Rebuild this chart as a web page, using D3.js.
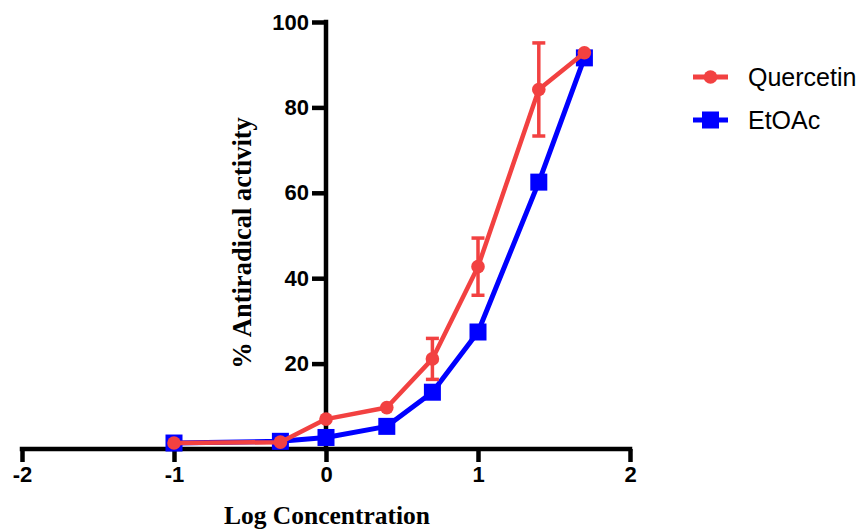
<!DOCTYPE html>
<html>
<head>
<meta charset="utf-8">
<script src="https://cdn.jsdelivr.net/npm/d3@7"></script>
<style>
  body { margin: 0; background: #fff; }
  svg { display: block; }
</style>
</head>
<body>
<svg id="chart" width="863" height="529"></svg>
<script>
// ---- data ----
var logConc = [-1, -0.3, 0, 0.4, 0.7, 1, 1.4, 1.7];
var quercetin = [1.4, 1.6, 7.0, 9.7, 21.1, 42.7, 84.2, 92.8];
var quercetinErr = [0, 0, 0, 0, 4.8, 6.7, 10.9, 0];
var etoac = [1.4, 1.8, 2.7, 5.3, 13.3, 27.4, 62.5, 91.6];
var xTicks = [-2, -1, 0, 1, 2];
var yTicks = [20, 40, 60, 80, 100];

var RED = "#f24141", BLUE = "#0000ff";

var svg = d3.select("#chart");
var x = d3.scaleLinear().domain([-2, 2]).range([22, 630]);
var y = d3.scaleLinear().domain([0, 100]).range([449, 22]);

// ---- axes ----
var xAxis = svg.append("g").attr("transform", "translate(0," + y(0) + ")")
  .call(d3.axisBottom(x).tickValues(xTicks).tickSize(13).tickPadding(4).tickFormat(function(d){ return String(d); }));
var yAxis = svg.append("g").attr("transform", "translate(" + x(0) + ",0)")
  .call(d3.axisLeft(y).tickValues(yTicks).tickSize(14).tickPadding(3).tickFormat(function(d){ return String(d); }));

[xAxis, yAxis].forEach(function(a){
  a.select(".domain").attr("stroke", "#000").attr("stroke-width", 4.5);
  a.selectAll(".tick line").attr("stroke", "#000").attr("stroke-width", 4.5);
  a.selectAll(".tick text").attr("fill", "#000")
    .style("font-family", "Liberation Sans, Arial, sans-serif")
    .style("font-weight", "bold").style("font-size", "22px");
});
// domain lines without outer ticks
xAxis.select(".domain").attr("d", "M" + (x(-2) - 2.25) + ",0H" + (x(2) + 2.25));
yAxis.select(".domain").attr("d", "M0," + (y(100) - 2.25) + "V" + (y(0) + 2.25));

// ---- axis titles ----
svg.append("text")
  .attr("x", 327).attr("y", 524)
  .attr("text-anchor", "middle")
  .style("font-family", "Liberation Serif, Times New Roman, serif")
  .style("font-weight", "bold").style("font-size", "25.5px")
  .text("Log Concentration");
svg.append("text")
  .attr("transform", "translate(251,243) rotate(-90)")
  .attr("text-anchor", "middle")
  .style("font-family", "Liberation Serif, Times New Roman, serif")
  .style("font-weight", "bold").style("font-size", "26.5px")
  .text("% Antiradical activity");

var line = d3.line().x(function(d){ return x(d[0]); }).y(function(d){ return y(d[1]); });

// ---- EtOAc (blue squares) ----
var etPts = logConc.map(function(v, i){ return [v, etoac[i]]; });
svg.append("path").datum(etPts).attr("d", line)
  .attr("fill", "none").attr("stroke", BLUE).attr("stroke-width", 5).attr("stroke-linejoin", "round");
svg.selectAll(".sq").data(etPts).enter().append("rect")
  .attr("x", function(d){ return x(d[0]) - 8.5; })
  .attr("y", function(d){ return y(d[1]) - 8.5; })
  .attr("width", 17).attr("height", 17).attr("fill", BLUE);

// ---- Quercetin (red circles with error bars) ----
var qPts = logConc.map(function(v, i){ return [v, quercetin[i], quercetinErr[i]]; });
var eb = svg.selectAll(".eb").data(qPts.filter(function(d){ return d[2] > 0; })).enter().append("g");
eb.append("line")
  .attr("x1", function(d){ return x(d[0]); }).attr("x2", function(d){ return x(d[0]); })
  .attr("y1", function(d){ return y(d[1] + d[2]); }).attr("y2", function(d){ return y(d[1] - d[2]); })
  .attr("stroke", RED).attr("stroke-width", 3.5);
[1, -1].forEach(function(s){
  eb.append("line")
    .attr("x1", function(d){ return x(d[0]) - 6.5; }).attr("x2", function(d){ return x(d[0]) + 6.5; })
    .attr("y1", function(d){ return y(d[1] + s * d[2]); }).attr("y2", function(d){ return y(d[1] + s * d[2]); })
    .attr("stroke", RED).attr("stroke-width", 3.5);
});
svg.append("path").datum(qPts).attr("d", line)
  .attr("fill", "none").attr("stroke", RED).attr("stroke-width", 4.5).attr("stroke-linejoin", "round");
svg.selectAll(".ci").data(qPts).enter().append("circle")
  .attr("cx", function(d){ return x(d[0]); })
  .attr("cy", function(d){ return y(d[1]); })
  .attr("r", 6.8).attr("fill", RED);

// ---- legend ----
var legend = [{name: "Quercetin", color: RED, shape: "circle", y: 77},
              {name: "EtOAc", color: BLUE, shape: "square", y: 120}];
var lg = svg.selectAll(".lg").data(legend).enter().append("g")
  .attr("transform", function(d){ return "translate(0," + d.y + ")"; });
lg.append("line").attr("x1", 693).attr("x2", 728).attr("y1", 0).attr("y2", 0)
  .attr("stroke", function(d){ return d.color; }).attr("stroke-width", 5);
lg.each(function(d){
  var g = d3.select(this);
  if (d.shape == "circle") {
    g.append("circle").attr("cx", 710.5).attr("cy", 0).attr("r", 6.8).attr("fill", d.color);
  } else {
    g.append("rect").attr("x", 702).attr("y", -8.5).attr("width", 17).attr("height", 17).attr("fill", d.color);
  }
});
lg.append("text").attr("x", 748).attr("y", 9)
  .style("font-family", "Liberation Sans, Arial, sans-serif")
  .style("font-size", "25px").attr("fill", "#000")
  .text(function(d){ return d.name; });
</script>
</body>
</html>
